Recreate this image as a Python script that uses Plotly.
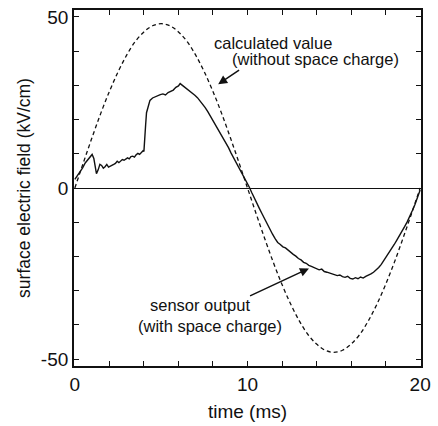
import plotly.graph_objects as go

# Calculated value (without space charge), kV/cm
calc_t = [i * 0.5 for i in range(41)]
calc_v = [0, 7.5, 14.8, 21.8, 28.2, 33.9, 38.8, 42.8, 45.6, 47.4, 48.0,
          47.4, 45.6, 42.8, 38.8, 33.9, 28.2, 21.8, 14.8, 7.5, 0,
          -7.5, -14.8, -21.8, -28.2, -33.9, -38.8, -42.8, -45.6, -47.4, -48.0,
          -47.4, -45.6, -42.8, -38.8, -33.9, -28.2, -21.8, -14.8, -7.5, 0]

# Sensor output (with space charge)
sens_t = [0.0, 0.15, 0.3, 0.45, 0.6, 0.75, 0.9, 1.0, 1.1, 1.2, 1.25, 1.35, 1.45, 1.55, 1.65,
          1.75, 1.85, 1.95, 2.05, 2.15, 2.25, 2.35, 2.45, 2.55, 2.65, 2.75, 2.85, 2.95, 3.05,
          3.15, 3.25, 3.35, 3.45, 3.55, 3.65, 3.75, 3.85, 3.95, 4.0, 4.05, 4.1, 4.15, 4.25,
          4.35, 4.5, 4.65, 4.8, 4.95, 5.1, 5.25, 5.4, 5.55, 5.7, 5.85, 6.0, 6.1, 6.2, 6.35,
          6.5, 6.65, 6.8, 6.95, 7.1, 7.25, 7.4, 7.55, 7.7, 7.85, 8.0, 8.15, 8.3, 8.45, 8.6,
          8.75, 8.9, 9.05, 9.2, 9.35, 9.5, 9.65, 9.8, 9.95, 10.1, 10.25, 10.4, 10.55, 10.7,
          10.85, 11.0, 11.15, 11.3, 11.45, 11.6, 11.75, 11.9, 12.05, 12.2, 12.35, 12.5, 12.65,
          12.8, 12.95, 13.1, 13.25, 13.4, 13.55, 13.7, 13.85, 14.0, 14.15, 14.3, 14.45, 14.6,
          14.75, 14.9, 15.05, 15.2, 15.35, 15.5, 15.65, 15.8, 15.95, 16.1, 16.25, 16.4, 16.55,
          16.7, 16.85, 17.0, 17.15, 17.3, 17.45, 17.6, 17.75, 17.9, 18.05, 18.2, 18.35, 18.5,
          18.65, 18.8, 18.95, 19.1, 19.25, 19.4, 19.55, 19.7, 19.85, 20.0]
sens_v = [2.5, 3.6, 4.9, 5.9, 7.3, 8.2, 9.4, 9.8, 8.6, 5.8, 4.2, 5.3, 6.9, 6.6, 5.8,
          6.2, 6.9, 6.1, 6.3, 6.6, 6.9, 7.2, 7.8, 7.4, 7.9, 8.3, 8.1, 8.6, 8.8,
          8.5, 9.2, 9.3, 9.0, 9.7, 10.1, 9.8, 10.4, 10.9, 10.7, 13.5, 18.5, 22.0, 24.3,
          25.6, 26.3, 26.7, 27.0, 27.3, 27.5, 27.2, 27.9, 28.3, 28.6, 29.4, 29.8, 30.5, 30.1, 29.7,
          29.1, 28.5, 27.9, 27.1, 26.4, 25.5, 24.6, 23.5, 22.3, 21.0, 19.8, 18.3, 16.8, 15.6, 14.4,
          13.1, 11.8, 10.2, 8.8, 7.5, 6.1, 4.7, 3.5, 1.8, 0.3, -1.4, -3.1, -4.7, -6.1,
          -7.6, -9.1, -10.7, -12.3, -13.5, -14.8, -15.9, -16.5, -17.2, -17.5, -18.2, -18.8, -19.4,
          -19.9, -20.6, -21.0, -21.7, -22.0, -22.6, -22.9, -23.2, -23.6, -23.9, -23.7, -24.4, -24.6,
          -24.9, -25.0, -25.3, -25.6, -25.4, -25.9, -26.1, -25.8, -26.4, -26.6, -26.2, -26.5, -26.0,
          -26.3, -25.8, -25.5, -25.1, -24.6, -24.0, -23.2, -22.3, -21.2, -20.1, -18.9, -17.8, -16.5,
          -15.2, -14.0, -12.7, -11.3, -9.9, -8.4, -6.6, -4.8, -2.9, -0.6]

x_ticks = [0, 2, 4, 6, 8, 10, 12, 14, 16, 18, 20]
x_labels = ["0", "", "", "", "", "10", "", "", "", "", "20"]
y_ticks = [-50, -40, -30, -20, -10, 0, 10, 20, 30, 40, 50]
y_labels = ["-50", "", "", "", "", "0", "", "", "", "", "50"]

FONT = "Liberation Sans, Arial, sans-serif"
INK = "#111111"

fig = go.Figure()
fig.add_trace(go.Scatter(x=calc_t, y=calc_v, mode="lines",
                         line=dict(color=INK, width=1.3, dash="4px,3px", shape="spline"),
                         showlegend=False))
fig.add_trace(go.Scatter(x=sens_t, y=sens_v, mode="lines",
                         line=dict(color=INK, width=1.4),
                         showlegend=False))

ann_font = dict(family=FONT, size=16.5, color=INK)
fig.add_annotation(x=7.97, y=42.5, text="calculated value", showarrow=False,
                   xanchor="left", yanchor="middle", font=ann_font)
fig.add_annotation(x=8.98, y=37.6, text="(without space charge)", showarrow=False,
                   xanchor="left", yanchor="middle", font=ann_font)
fig.add_annotation(x=4.24, y=-34.3, text="sensor output", showarrow=False,
                   xanchor="left", yanchor="middle", font=ann_font)
fig.add_annotation(x=3.56, y=-40.3, text="(with space charge)", showarrow=False,
                   xanchor="left", yanchor="middle", font=ann_font)
# arrows
fig.add_annotation(x=8.3, y=30.3, ax=9.6, ay=34.7, axref="x", ayref="y",
                   text="", showarrow=True, arrowhead=2, arrowsize=1.2,
                   arrowwidth=1.5, arrowcolor=INK)
fig.add_annotation(x=13.56, y=-23.5, ax=10.06, ay=-31.7, axref="x", ayref="y",
                   text="", showarrow=True, arrowhead=2, arrowsize=1.2,
                   arrowwidth=1.5, arrowcolor=INK)

fig.update_layout(
    width=438, height=426,
    margin=dict(l=74, r=8, t=7, b=60),
    paper_bgcolor="white", plot_bgcolor="white",
    font=dict(family=FONT, color=INK),
)
fig.update_xaxes(range=[-0.05, 20.05], tickvals=x_ticks, ticktext=x_labels,
                 ticks="inside", ticklen=5, tickwidth=1.3, tickcolor=INK,
                 showline=True, linecolor=INK, linewidth=1.8, mirror="ticks",
                 showgrid=False, zeroline=False, ticklabeloverflow="allow",
                 tickfont=dict(size=19, family=FONT, color=INK),
                 title=dict(text="time (ms)", font=dict(size=19, family=FONT, color=INK),
                            standoff=11))
fig.update_yaxes(range=[-52, 52], tickvals=y_ticks, ticktext=y_labels,
                 ticks="inside", ticklen=5, tickwidth=1.3, tickcolor=INK,
                 showline=True, linecolor=INK, linewidth=1.8, mirror="ticks",
                 showgrid=False, zeroline=True, zerolinecolor=INK, zerolinewidth=1,
                 ticklabeloverflow="allow",
                 tickfont=dict(size=19, family=FONT, color=INK),
                 title=dict(text="surface electric field (kV/cm)",
                            font=dict(size=17.5, family=FONT, color=INK), standoff=6))

fig.write_html("out.html")
